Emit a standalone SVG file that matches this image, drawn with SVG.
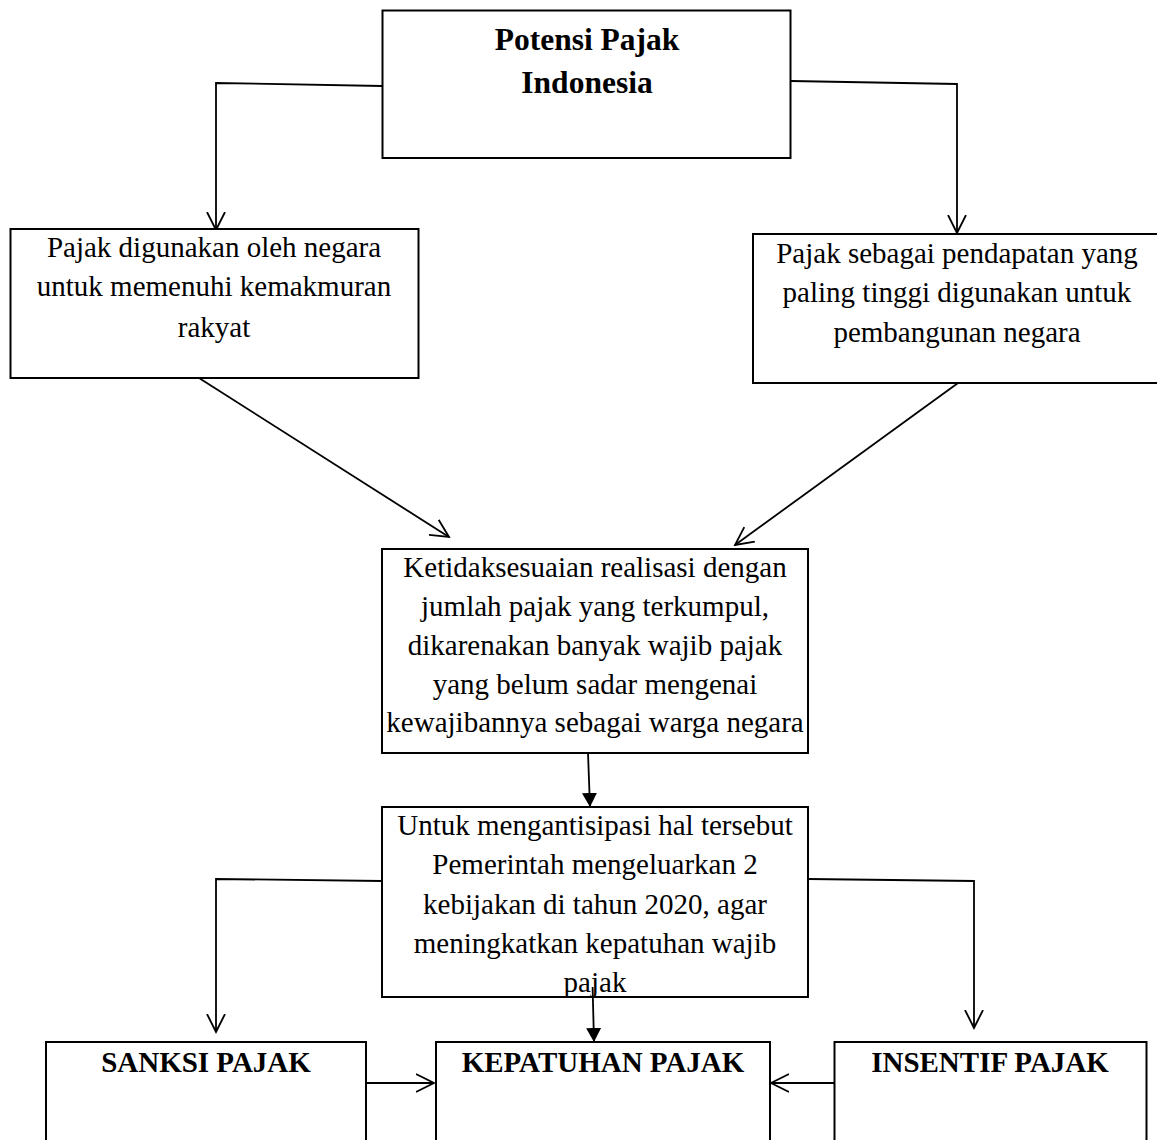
<svg xmlns="http://www.w3.org/2000/svg" width="1157" height="1140" viewBox="0 0 1157 1140">
<style>
.box{fill:#fff;stroke:#000;stroke-width:2}
.t{font-family:"Liberation Serif","Times New Roman",serif;font-size:29px;fill:#000;text-anchor:middle}
.b{font-weight:bold}
.c{fill:none;stroke:#000;stroke-width:1.8}
</style>
<defs>
<marker id="open" markerUnits="userSpaceOnUse" viewBox="0 0 20 20" refX="18" refY="10" markerWidth="20" markerHeight="20" orient="auto">
<path d="M0,1 L18,10 L0,19" fill="none" stroke="#000" stroke-width="1.8"/>
</marker>
<marker id="fill" markerUnits="userSpaceOnUse" viewBox="0 0 20 20" refX="14" refY="10" markerWidth="20" markerHeight="20" orient="auto">
<path d="M0,2.5 L14,10 L0,17.5 Z" fill="#000"/>
</marker>
</defs>
<rect width="1157" height="1140" fill="#fff"/>
<g id="connectors">
<path class="c" d="M382,86 L216,83 L216,230" marker-end="url(#open)"/>
<path class="c" d="M791,81 L957,84 L957,233" marker-end="url(#open)"/>
<path class="c" d="M199,378 L449,537" marker-end="url(#open)"/>
<path class="c" d="M958,383 L735,545" marker-end="url(#open)"/>
<path class="c" d="M588,753 L590,807" marker-end="url(#fill)"/>
<path class="c" d="M382,881 L216,879 L216,1032" marker-end="url(#open)"/>
<path class="c" d="M808,879 L974,881 L974,1028" marker-end="url(#open)"/>
<path class="c" d="M366,1083 L434,1083" marker-end="url(#open)"/>
<path class="c" d="M834,1083 L771,1083" marker-end="url(#open)"/>
</g>
<g id="potensi">
<rect class="box" x="382.5" y="10.5" width="408" height="147.5"/>
<text class="t b" style="font-size:31.5px" x="587" y="50">Potensi Pajak</text>
<text class="t b" style="font-size:31.5px" x="587" y="92.5">Indonesia</text>
</g>
<g id="kemakmuran">
<rect class="box" x="10.5" y="229" width="408" height="149"/>
<text class="t" x="214" y="257">Pajak digunakan oleh negara</text>
<text class="t" x="214" y="296">untuk memenuhi kemakmuran</text>
<text class="t" x="214" y="337">rakyat</text>
</g>
<g id="pendapatan">
<rect class="box" x="753" y="234" width="410" height="149"/>
<text class="t" x="957" y="263">Pajak sebagai pendapatan yang</text>
<text class="t" x="957" y="302">paling tinggi digunakan untuk</text>
<text class="t" x="957" y="342">pembangunan negara</text>
</g>
<g id="ketidaksesuaian">
<rect class="box" x="382" y="549" width="426" height="204"/>
<text class="t" x="595" y="577">Ketidaksesuaian realisasi dengan</text>
<text class="t" x="595" y="616">jumlah pajak yang terkumpul,</text>
<text class="t" x="595" y="655">dikarenakan banyak wajib pajak</text>
<text class="t" x="595" y="694">yang belum sadar mengenai</text>
<text class="t" x="595" y="732">kewajibannya sebagai warga negara</text>
</g>
<g id="kebijakan">
<rect class="box" x="382" y="807" width="426" height="190"/>
<text class="t" x="595" y="835">Untuk mengantisipasi hal tersebut</text>
<text class="t" x="595" y="874">Pemerintah mengeluarkan 2</text>
<text class="t" x="595" y="914">kebijakan di tahun 2020, agar</text>
<text class="t" x="595" y="953">meningkatkan kepatuhan wajib</text>
<text class="t" x="595" y="992">pajak</text>
</g>
<path class="c" d="M592.6,987 L594,1042" marker-end="url(#fill)"/>
<g id="sanksi">
<rect class="box" x="46" y="1042" width="320" height="110"/>
<text class="t b" x="206" y="1072">SANKSI PAJAK</text>
</g>
<g id="kepatuhan">
<rect class="box" x="436" y="1042" width="334" height="110"/>
<text class="t b" x="603" y="1072">KEPATUHAN PAJAK</text>
</g>
<g id="insentif">
<rect class="box" x="834.5" y="1042" width="312" height="110"/>
<text class="t b" x="990" y="1072">INSENTIF PAJAK</text>
</g>
</svg>
